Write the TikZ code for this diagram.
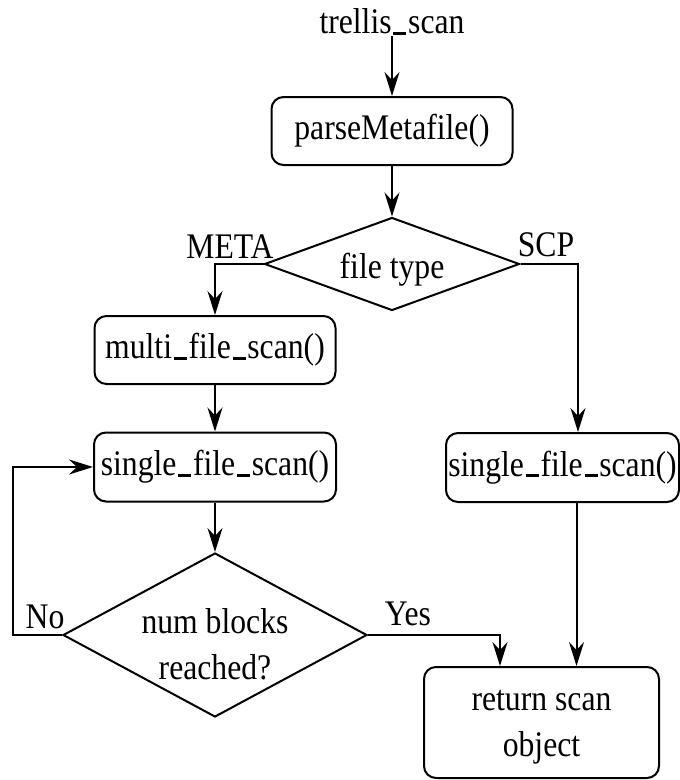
\documentclass[tikz,border=0pt]{standalone}
\usepackage{fontspec}
\setmainfont{Liberation Serif}[FakeStretch=0.88]
\usetikzlibrary{shapes.geometric,arrows.meta}
% short, heavy underscore
\newcommand{\usc}{\kern0.05em\rule[-0.03em]{0.36em}{0.09em}\kern0.05em}
\begin{document}
\begin{tikzpicture}[x=1pt,y=-1pt,
  line width=2pt,
  every node/.style={font=\fontsize{36}{46}\selectfont},
  proc/.style={draw, rounded corners=12pt, inner sep=0pt, align=center},
  decision/.style={draw, diamond, inner sep=-15pt, align=center},
  arr/.style={-{Stealth[length=24pt,width=15pt,inset=8pt]}},
  lbl/.style={inner sep=0pt}]
\useasboundingbox (0,0) rectangle (680,780);

% nodes
\node[lbl] (start) at (392,22) {trellis\usc scan};
\node[proc, minimum width=241pt, minimum height=68pt] (parse) at (392,131) {parseMetafile()};
\node[decision, aspect=2.74, minimum width=255pt, minimum height=93pt] (type) at (392,264) {file type\rule{0pt}{37pt}};
\node[proc, minimum width=241pt, minimum height=68pt] (multi) at (215,350) {multi\usc file\usc scan()};
\node[proc, minimum width=242pt, minimum height=69pt] (single) at (215,467) {single\usc file\usc scan()};
\node[decision, aspect=1.85, minimum width=304pt, minimum height=164pt] (blocks) at (215,635) {num blocks\rule{0pt}{44pt}\\reached?};
\node[proc, minimum width=233pt, minimum height=69pt] (single2) at (562.5,467.5) {single\usc file\usc scan()};
\node[proc, minimum width=235pt, minimum height=111pt] (ret) at (541.5,722.5) {return scan\rule{0pt}{30pt}\\object};
\coordinate (back) at (13,635);

% branch labels
\node[lbl] at (230,247) {META};
\node[lbl] at (546,245) {SCP};
\node[lbl] at (45,617) {No};
\node[lbl] at (408,614) {Yes};

% connectors
\draw[arr] (start) -- (parse);
\draw[arr] (parse) -- (type);
\draw[arr] (type.west) -| (multi.north);
\draw[arr] (multi) -- (single);
\draw[arr] (single) -- (blocks);
\draw[arr] (blocks.west) -- (back) |- (single.west);
\draw[arr] (type.east) -| ([xshift=15.5pt]single2.north);
\draw[arr] ([xshift=14pt]single2.south) -- ([xshift=14pt]single2.south |- ret.north);
\draw[arr] (blocks.east) -| ([xshift=-41.5pt]ret.north);
\end{tikzpicture}
\end{document}
